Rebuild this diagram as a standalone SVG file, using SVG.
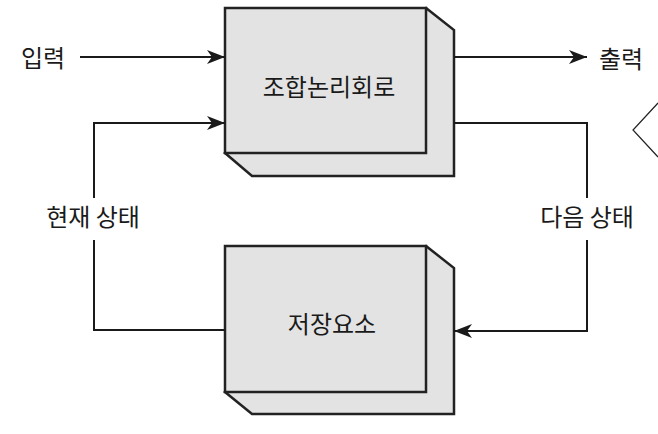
<svg xmlns="http://www.w3.org/2000/svg" width="658" height="434" viewBox="0 0 658 434">
<defs>
<style>
.box{fill:#e3e3e3;stroke:#222;stroke-width:2.5;stroke-linejoin:miter}
.ln{fill:none;stroke:#1a1a1a;stroke-width:2}
.t{font-family:"Noto Sans CJK KR","Noto Sans",sans-serif;font-size:24px;fill:#1a1a1a;dominant-baseline:central}
</style>
<marker id="ah" viewBox="0 0 18 14" refX="18" refY="7" markerWidth="18" markerHeight="14" markerUnits="userSpaceOnUse" orient="auto">
<path d="M0,0 L18,7 L0,14 L5,7 Z" fill="#1a1a1a"/>
</marker>
</defs>
<rect width="658" height="434" fill="#fff"/>
<g id="comb">
<polygon class="box" points="426,8 454,30 454,176 252,176 225,153"/>
<rect class="box" x="225" y="8" width="201" height="145"/>
<text class="t" x="329" y="85" text-anchor="middle">조합논리회로</text>
</g>
<g id="storage">
<polygon class="box" points="426,246 454,268 454,414 252,414 225,392"/>
<rect class="box" x="225" y="246" width="201" height="146"/>
<text class="t" x="332" y="322" text-anchor="middle">저장요소</text>
</g>
<g id="connectors">
<line class="ln" x1="80" y1="57" x2="225" y2="57" marker-end="url(#ah)"/>
<line class="ln" x1="454" y1="57" x2="587" y2="57" marker-end="url(#ah)"/>
<polyline class="ln" points="94,198 94,123 225,123" marker-end="url(#ah)"/>
<polyline class="ln" points="225,330 94,330 94,240"/>
<polyline class="ln" points="454,123 587,123 587,198"/>
<polyline class="ln" points="587,240 587,331 454,331" marker-end="url(#ah)"/>
</g>
<g id="labels">
<text class="t" x="21" y="56">입력</text>
<text class="t" x="599" y="57">출력</text>
<text class="t" x="93" y="215" text-anchor="middle">현재 상태</text>
<text class="t" x="587" y="215" text-anchor="middle">다음 상태</text>
</g>
<polyline points="658,103 633,130 658,157" fill="none" stroke="#222" stroke-width="1.2"/>
</svg>
